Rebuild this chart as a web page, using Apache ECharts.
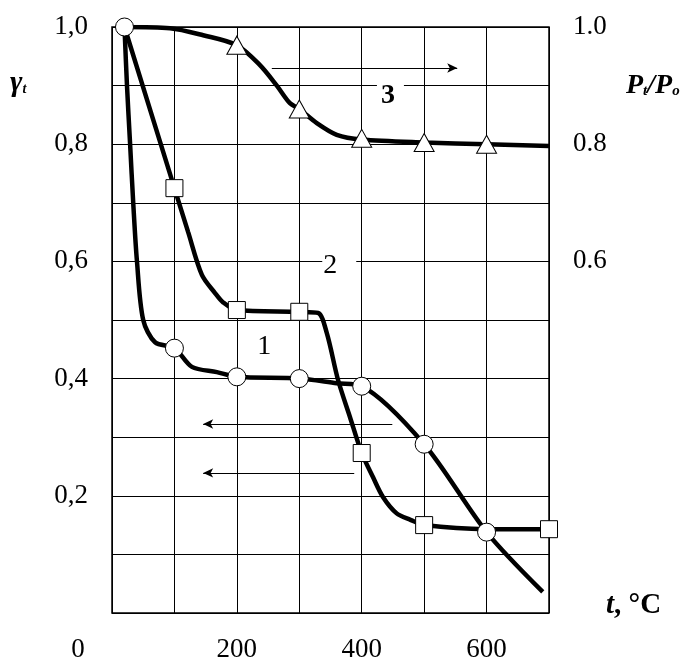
<!DOCTYPE html>
<html>
<head>
<meta charset="utf-8">
<title>gamma_t, P_t/P_o vs t</title>
<script src="https://cdn.jsdelivr.net/npm/echarts@6/dist/echarts.min.js"></script>
<style>
  html, body { margin: 0; padding: 0; background: #fff; }
  #chart { width: 698px; height: 664px; }
</style>
</head>
<body>
<div id="chart"></div>
<script>
// curve 1 (circles)
const curve1T = [20, 24, 29, 34, 40, 50, 69, 100, 128, 168, 200, 300, 360, 400, 500, 600, 690]
const curve1V = [1.0, 0.90, 0.80, 0.70, 0.60, 0.50, 0.462, 0.452, 0.42, 0.411, 0.403, 0.40, 0.392, 0.387, 0.288, 0.138, 0.036]
const marks1T = [20, 100, 200, 300, 400, 500, 600]
const marks1V = [1.0, 0.452, 0.403, 0.40, 0.387, 0.288, 0.138]

// curve 2 (squares)
const curve2T = [20, 100, 122, 144, 165, 178, 200, 300, 330, 344, 362, 381, 400, 418, 434, 456, 478, 500, 600, 700]
const curve2V = [1.0, 0.725, 0.65, 0.577, 0.546, 0.53, 0.517, 0.514, 0.512, 0.478, 0.398, 0.335, 0.273, 0.232, 0.198, 0.17, 0.159, 0.150, 0.143, 0.143]
const marks2T = [100, 200, 300, 400, 500, 700]
const marks2V = [0.725, 0.517, 0.514, 0.273, 0.150, 0.143]

// curve 3 (triangles), right axis P_t/P_o
const curve3T = [20, 93, 146, 200, 237, 264, 285, 300, 328, 360, 400, 500, 600, 700]
const curve3V = [1.0, 0.998, 0.986, 0.969, 0.935, 0.90, 0.87, 0.86, 0.836, 0.816, 0.808, 0.803, 0.80, 0.797]
const marks3T = [200, 300, 400, 500, 600]
const marks3V = [0.969, 0.86, 0.81, 0.803, 0.80]

// tick labels
const xLabelValues = [0, 200, 400, 600]
const leftLabelValues = [0.2, 0.4, 0.6, 0.8, 1.0]
const rightLabelValues = [0.6, 0.8, 1.0]

const FONT = '"Liberation Serif", "DejaVu Serif", serif'

function pairs(ts, vs) {
  return ts.map((t, i) => [t, vs[i]])
}
function hasValue(list, v) {
  return list.some(x => Math.abs(x - v) < 1e-6)
}

const chart = echarts.init(document.getElementById('chart'))

const lineBase = {
  type: 'line',
  smooth: 0.3,
  showSymbol: false,
  symbol: 'none',
  lineStyle: { color: '#000', width: 4.5 },
  z: 3
}
const markBase = {
  type: 'scatter',
  itemStyle: { color: '#fff', borderColor: '#000', borderWidth: 1, opacity: 1 },
  z: 5
}
const arrowBase = {
  silent: true,
  symbol: ['none', 'arrow'],
  symbolSize: [7, 10],
  label: { show: false },
  lineStyle: { color: '#000', width: 1, type: 'solid' }
}
// curve number with a white box that breaks the grid line behind it
function tag(text, coord, padding, weight) {
  return {
    coord: coord,
    symbol: 'rect',
    symbolSize: 1,
    itemStyle: { color: 'transparent' },
    label: {
      show: true,
      position: 'inside',
      formatter: text,
      color: '#000',
      fontFamily: FONT,
      fontSize: 28,
      fontWeight: weight,
      backgroundColor: '#fff',
      padding: padding
    }
  }
}

chart.setOption({
  animation: false,
  backgroundColor: '#fff',
  grid: {
    left: 112,
    top: 27,
    right: 149,
    bottom: 51,
    show: true,
    borderColor: '#000',
    borderWidth: 1.5
  },
  xAxis: {
    type: 'value',
    min: 0,
    max: 700,
    interval: 100,
    axisLine: { show: false },
    axisTick: { show: false },
    splitLine: { show: true, lineStyle: { color: '#000', width: 1 } },
    axisLabel: {
      margin: 23,
      color: '#000',
      fontFamily: FONT,
      fontSize: 27,
      showMaxLabel: false,
      formatter: function (v) {
        if (!hasValue(xLabelValues, v)) return ''
        if (v === 0) return '{o|0}'
        return String(v)
      },
      rich: {
        o: { fontFamily: FONT, fontSize: 27, color: '#000', padding: [0, 68, 0, 0] }
      }
    }
  },
  yAxis: [{
    type: 'value',
    min: 0,
    max: 1,
    interval: 0.1,
    axisLine: { show: false },
    axisTick: { show: false },
    splitLine: { show: true, lineStyle: { color: '#000', width: 1 } },
    axisLabel: {
      margin: 24,
      color: '#000',
      fontFamily: FONT,
      fontSize: 27,
      formatter: function (v) {
        return hasValue(leftLabelValues, v) ? v.toFixed(1).replace('.', ',') : ''
      }
    }
  }, {
    type: 'value',
    min: 0,
    max: 1,
    interval: 0.1,
    position: 'right',
    axisLine: { show: false },
    axisTick: { show: false },
    splitLine: { show: false },
    axisLabel: {
      margin: 24,
      color: '#000',
      fontFamily: FONT,
      fontSize: 27,
      formatter: function (v) {
        return hasValue(rightLabelValues, v) ? v.toFixed(1) : ''
      }
    }
  }],
  series: [
    Object.assign({}, lineBase, {
      name: '1',
      data: pairs(curve1T, curve1V),
      markLine: Object.assign({}, arrowBase, {
        data: [[{ coord: [449, 0.3225] }, { coord: [146, 0.3225] }]]
      }),
      markPoint: { silent: true, data: [tag('1', [244, 0.455], [2, 4, 2, 4], 'normal')] }
    }),
    Object.assign({}, lineBase, {
      name: '2',
      data: pairs(curve2T, curve2V),
      markLine: Object.assign({}, arrowBase, {
        data: [[{ coord: [388, 0.239] }, { coord: [146, 0.239] }]]
      }),
      markPoint: { silent: true, data: [tag('2', [364, 0.593], [2, 19, 1, 1], 'normal')] }
    }),
    Object.assign({}, lineBase, {
      name: '3',
      yAxisIndex: 1,
      data: pairs(curve3T, curve3V),
      markLine: Object.assign({}, arrowBase, {
        data: [[{ coord: [256, 0.93] }, { coord: [553, 0.93] }]]
      }),
      markPoint: { silent: true, data: [tag('3', [446, 0.882], [4, 9, 0, 4], 'bold')] }
    }),
    Object.assign({}, markBase, {
      name: '1 marks',
      symbol: 'circle',
      symbolSize: 18,
      data: pairs(marks1T, marks1V)
    }),
    Object.assign({}, markBase, {
      name: '2 marks',
      symbol: 'rect',
      symbolSize: 17,
      data: pairs(marks2T, marks2V)
    }),
    Object.assign({}, markBase, {
      name: '3 marks',
      symbol: 'triangle',
      symbolSize: [20, 18],
      yAxisIndex: 1,
      data: pairs(marks3T, marks3V)
    })
  ],
  graphic: [{
    type: 'text',
    left: 10,
    top: 68,
    style: {
      text: '{g|γ}{s|t}',
      fill: '#000',
      rich: {
        g: { fontFamily: FONT, fontSize: 30, fontStyle: 'italic', fontWeight: 'bold' },
        s: { fontFamily: FONT, fontSize: 14, fontStyle: 'italic', fontWeight: 'bold', padding: [12, 0, 0, 0] }
      }
    }
  }, {
    type: 'text',
    left: 626,
    top: 72,
    style: {
      text: '{p|P}{s|t}{p|/P}{s|o}',
      fill: '#000',
      rich: {
        p: { fontFamily: FONT, fontSize: 28, fontStyle: 'italic', fontWeight: 'bold' },
        s: { fontFamily: FONT, fontSize: 15, fontStyle: 'italic', fontWeight: 'bold', padding: [11, 0, 0, 0] }
      }
    }
  }, {
    type: 'text',
    left: 606,
    top: 591,
    style: {
      text: '{i|t}{n|, °C}',
      fill: '#000',
      rich: {
        i: { fontFamily: FONT, fontSize: 29, fontStyle: 'italic', fontWeight: 'bold' },
        n: { fontFamily: FONT, fontSize: 29, fontWeight: 'bold' }
      }
    }
  }]
})
</script>
</body>
</html>
